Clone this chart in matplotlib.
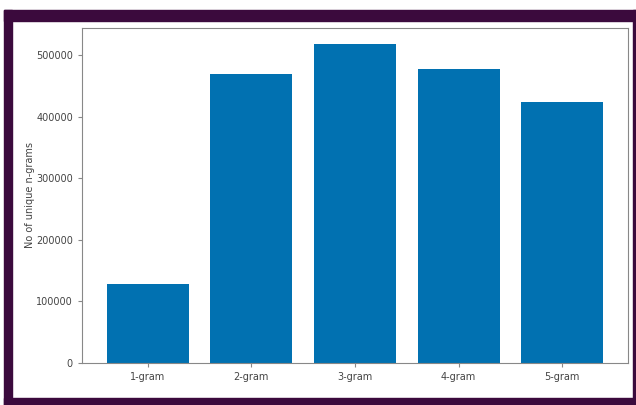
import matplotlib
matplotlib.use("Agg")
import matplotlib.pyplot as plt
from matplotlib.patches import Rectangle

ngrams = ["1-gram", "2-gram", "3-gram", "4-gram", "5-gram"]
unique_counts = [128000, 469000, 518000, 477000, 424000]

W, H = 636, 405
fig = plt.figure(figsize=(W / 100, H / 100), dpi=100)
fig.patch.set_facecolor("white")

# purple frame of the screenshot (figure pixels: x0, y0 from top, x1, y1)
frame_col = "#3b0a3d"
for x0, y0, x1, y1 in [(4, 10, 636, 21), (4, 10, 12, 405), (4, 398, 636, 405), (633, 10, 636, 405)]:
    fig.patches.append(Rectangle((x0 / W, 1 - y1 / H), (x1 - x0) / W, (y1 - y0) / H,
                                 transform=fig.transFigure, color=frame_col, zorder=0))

ax = fig.add_axes([82 / W, 1 - 363 / H, (628 - 82) / W, (363 - 28) / H])
ax.bar(ngrams, unique_counts, width=0.79, color="#0171b1")

for s in ax.spines.values():
    s.set_color("#888888")
ax.tick_params(colors="#888888", labelcolor="#444444", labelsize=7, length=3)
ax.set_ylabel("No of unique n-grams", fontsize=7, color="#444444", labelpad=1)

fig.savefig("out.png", dpi=100)
